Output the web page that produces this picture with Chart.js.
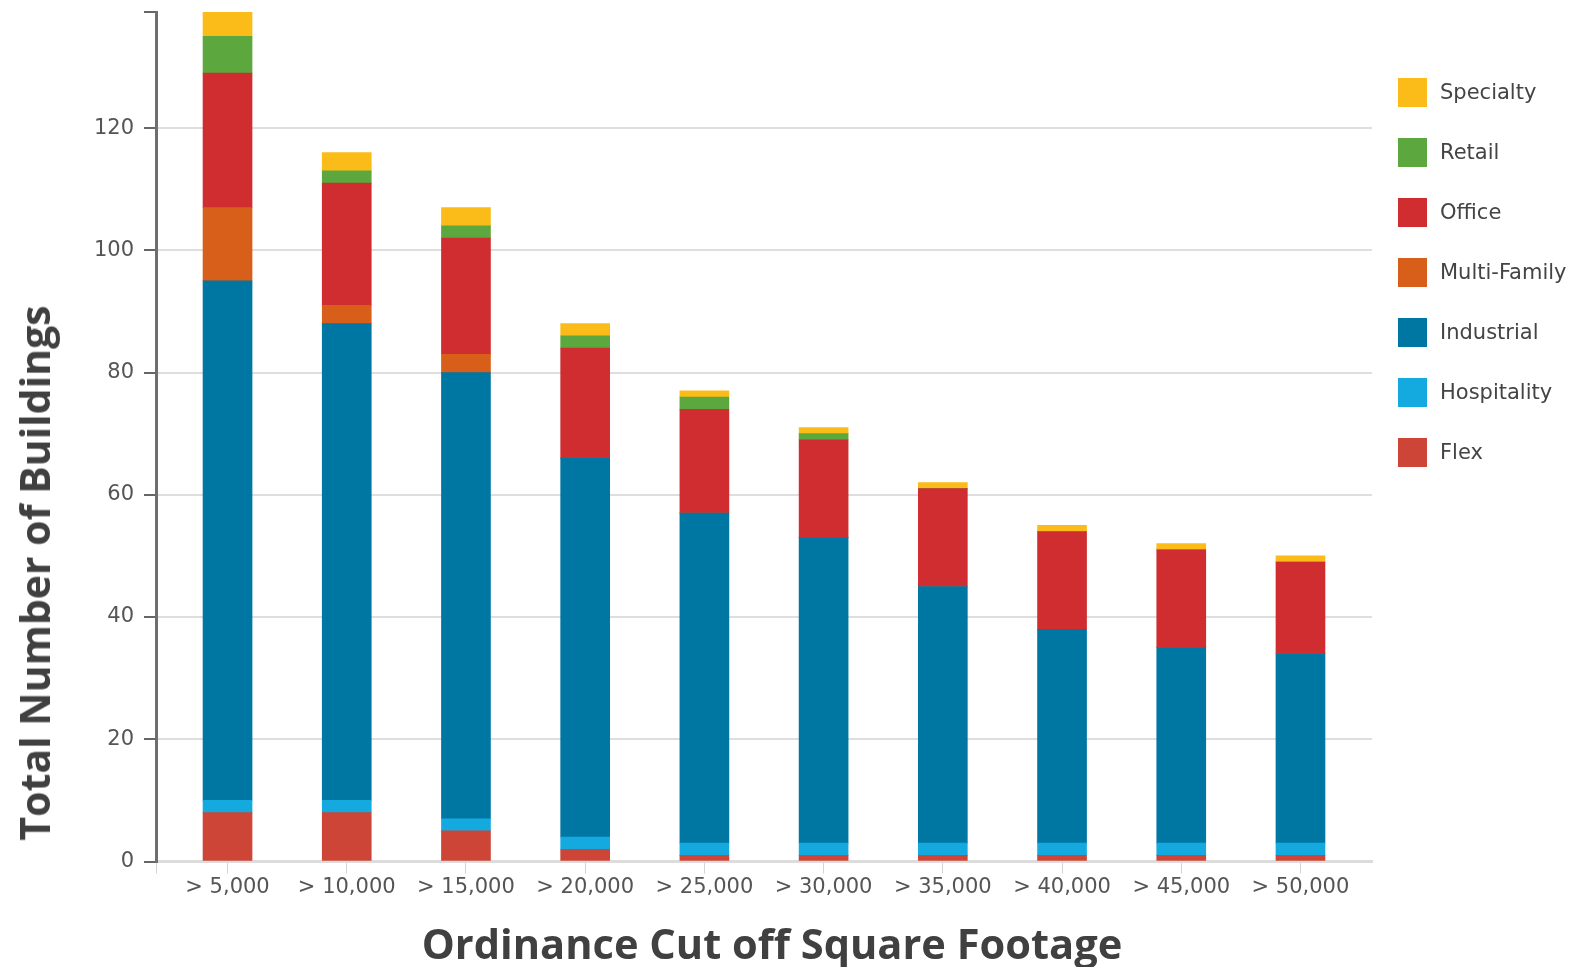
<!DOCTYPE html>
<html>
<head>
<meta charset="utf-8">
<title>Total Number of Buildings</title>
<script src="https://cdn.jsdelivr.net/npm/chart.js@4.4.0/dist/chart.umd.min.js"></script>
<style>
    body { margin: 0; background: #fff; }
    #contenedor { position: relative; width: 1580px; height: 967px; }
    #titulo_y { position: absolute; left: 34px; top: 573px; transform: translate(-50%, -50%) rotate(-90deg); white-space: nowrap; font: bold 41px "Open Sans"; color: #404040; }
    #titulo_x { position: absolute; left: 772px; top: 943px; transform: translate(-50%, -50%); white-space: nowrap; font: bold 41.6px "Open Sans"; color: #404040; }
    #leyenda { position: absolute; left: 1398px; top: 62px; margin: 0; padding: 0; list-style: none; }
    #leyenda li { height: 60px; display: flex; align-items: center; font: 21px "DejaVu Sans"; color: #444; }
    #leyenda span { display: inline-block; width: 29px; height: 29px; margin-right: 13px; }
</style>
</head>
<body>
<div id="contenedor">
    <canvas id="grafico" width="1580" height="967"></canvas>
    <div id="titulo_y">Total Number of Buildings</div>
    <div id="titulo_x">Ordinance Cut off Square Footage</div>
    <ul id="leyenda"></ul>
</div>
<script>
//DATOS DEL GRÁFICO.
const categorias = ["> 5,000", "> 10,000", "> 15,000", "> 20,000", "> 25,000", "> 30,000", "> 35,000", "> 40,000", "> 45,000", "> 50,000"];
const flex = [8, 8, 5, 2, 1, 1, 1, 1, 1, 1];
const hospitality = [2, 2, 2, 2, 2, 2, 2, 2, 2, 2];
const industrial = [85, 78, 73, 62, 54, 50, 42, 35, 32, 31];
const multiFamily = [12, 3, 3, 0, 0, 0, 0, 0, 0, 0];
const office = [22, 20, 19, 18, 17, 16, 16, 16, 16, 15];
const retail = [6, 2, 2, 2, 2, 1, 0, 0, 0, 0];
const specialty = [4, 3, 3, 2, 1, 1, 1, 1, 1, 1];
const ticksY = [0, 20, 40, 60, 80, 100, 120];
const maximoY = 139;


//FUNCIÓN PARA ARMAR UNA SERIE CON SU POSICIÓN EN EL EJE X.
function serie(nombre, valores, color) {
    return {
        label: nombre,
        data: valores.map((v, i) => ({ x: i, y: v })),
        backgroundColor: color,
        borderWidth: 0,
        barThickness: 49
    };
}

//SE DEFINEN LAS SERIES DE ABAJO HACIA ARRIBA.
const series = [
    serie("Flex", flex, "#cd4536"),
    serie("Hospitality", hospitality, "#15aadf"),
    serie("Industrial", industrial, "#0076a3"),
    serie("Multi-Family", multiFamily, "#d85f1a"),
    serie("Office", office, "#cf2d2f"),
    serie("Retail", retail, "#5ca83f"),
    serie("Specialty", specialty, "#fbbc19")
];


//LEYENDA EN HTML (ORDEN INVERSO, COMO EN LA IMAGEN).
const leyenda = document.getElementById("leyenda");
series.slice().reverse().forEach(s => {
    const li = document.createElement("li");
    li.innerHTML = '<span style="background:' + s.backgroundColor + '"></span>' + s.label;
    leyenda.appendChild(li);
});


const ctx = document.getElementById("grafico");
const config = {
    type: "bar",
    data: { datasets: series },
    options: {
        responsive: false,
        animation: false,
        layout: { padding: { top: 12, right: 208, left: 0, bottom: 0 } },
        plugins: {
            legend: { display: false },
            tooltip: { enabled: false }
        },
        scales: {
            x: {
                type: "linear",
                stacked: true,
                offset: false,
                min: -0.6,
                max: 9.6,
                afterBuildTicks: function(scale) {
                    scale.ticks = [{ value: -0.6 }].concat(categorias.map((c, i) => ({ value: i })));
                },
                afterFit: function(scale) {
                    scale.height = 105.5;
                    scale.paddingLeft = 0;
                    scale.paddingRight = 0;
                },
                ticks: {
                    autoSkip: false,
                    maxRotation: 0,
                    padding: 1,
                    color: "#555",
                    font: { family: "DejaVu Sans", size: 21 },
                    callback: function(valor) {
                        return Number.isInteger(valor) ? categorias[valor] : "";
                    }
                },
                grid: {
                    offset: false,
                    drawOnChartArea: false,
                    tickColor: "#d4d4d4",
                    tickLength: 12,
                    tickWidth: 1
                },
                border: { color: "#dcdcdc", width: 3 }
            },
            y: {
                stacked: true,
                min: 0,
                max: maximoY,
                afterBuildTicks: function(scale) {
                    scale.ticks = ticksY.concat([maximoY]).map(v => ({ value: v }));
                },
                afterFit: function(scale) {
                    scale.width = 156;
                    scale.paddingTop = 0;
                    scale.paddingBottom = 0;
                },
                ticks: {
                    padding: 10,
                    color: "#555",
                    font: { family: "DejaVu Sans", size: 21 },
                    callback: function(valor) {
                        return valor === maximoY ? "" : valor;
                    }
                },
                grid: {
                    color: c => (c.tick && c.tick.value === maximoY) ? "rgba(0,0,0,0)" : "#dedede",
                    lineWidth: 2,
                    tickColor: "#666",
                    tickLength: 12,
                    tickWidth: 2
                },
                border: { color: "#6e6e6e", width: 3 }
            }
        }
    }
};
const grafico = new Chart(ctx, config);
</script>
</body>
</html>
